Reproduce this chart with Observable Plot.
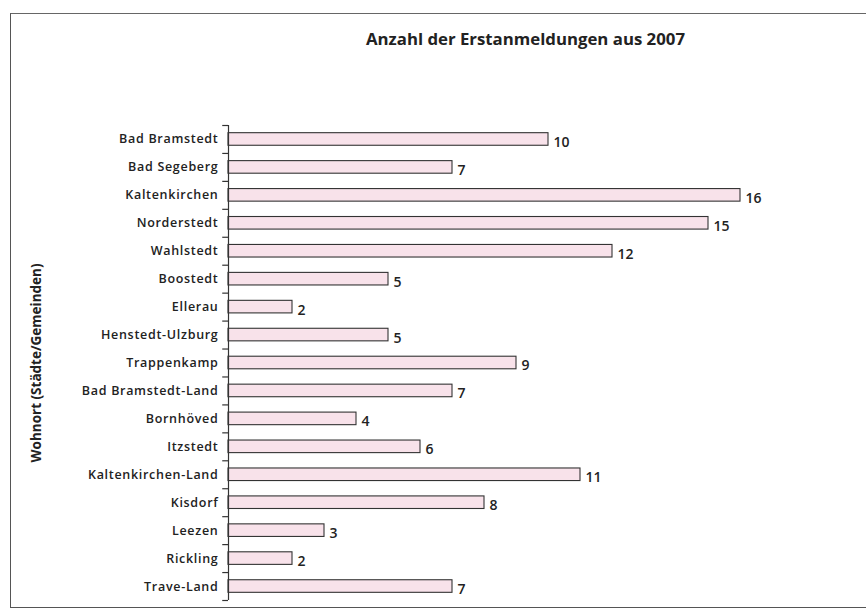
<!DOCTYPE html>
<html>
<head>
<meta charset="utf-8">
<script src="https://cdn.jsdelivr.net/npm/d3@7"></script>
<script src="https://cdn.jsdelivr.net/npm/@observablehq/plot@0.6"></script>
<style>
  html, body { margin: 0; padding: 0; background: #fff; overflow: hidden; }
  #wrap { position: relative; width: 866px; height: 610px; }
  #border { position: absolute; left: 10px; top: 13px; width: 900px; height: 593px;
            border-left: 1.6px solid #555; border-top: 1.6px solid #666; border-bottom: 1.6px solid #555; }
  #chart { position: absolute; left: 0; top: 0; }
</style>
</head>
<body>
<div id="wrap"><div id="border"></div><div id="chart"></div></div>
<script>
const title = "Anzahl der Erstanmeldungen aus 2007";
const yLabel = "Wohnort (Städte/Gemeinden)";
const places = ["Bad Bramstedt", "Bad Segeberg", "Kaltenkirchen", "Norderstedt", "Wahlstedt",
  "Boostedt", "Ellerau", "Henstedt-Ulzburg", "Trappenkamp", "Bad Bramstedt-Land", "Bornhöved",
  "Itzstedt", "Kaltenkirchen-Land", "Kisdorf", "Leezen", "Rickling", "Trave-Land"];
const counts = [10, 7, 16, 15, 12, 5, 2, 5, 9, 7, 4, 6, 11, 8, 3, 2, 7];

const data = places.map((p, i) => ({place: p, count: counts[i]}));
const font = "'Open Sans', 'DejaVu Sans', sans-serif";
const step = (600 - 125) / places.length;
const tickRows = places.map(p => ({place: p}));
const lastRow = [{place: places[places.length - 1]}];

const chart = Plot.plot({
  width: 866,
  height: 610,
  marginLeft: 228,
  marginRight: 126,
  marginTop: 125,
  marginBottom: 10,
  style: {fontFamily: font, background: "transparent", overflow: "visible"},
  x: {domain: [0, 16], axis: null},
  y: {domain: places, paddingInner: 0.55, paddingOuter: 0.275, round: false, axis: null},
  marks: [
    Plot.barX(data, {x: "count", y: "place", fill: "#f8e2ea", stroke: "#333", strokeWidth: 1.1}),
    Plot.ruleX([0], {stroke: "#333", strokeWidth: 1.2}),
    Plot.ruleY(tickRows, {y: "place", x1: () => -0.18, x2: () => 0, dy: -step / 2, stroke: "#333", strokeWidth: 1.2}),
    Plot.ruleY(lastRow, {y: "place", x1: () => -0.18, x2: () => 0, dy: step / 2, stroke: "#333", strokeWidth: 1.2}),
    Plot.text(data, {x: 0, y: "place", text: "place", textAnchor: "end", dx: -10, dy: 0,
      fontSize: 12.5, fontWeight: 600, fill: "#222"}),
    Plot.text(data, {x: "count", y: "place", text: d => String(d.count), textAnchor: "start", dx: 5, dy: 3,
      fontSize: 14, fontWeight: 600, fill: "#222"}),
    Plot.text([title], {frameAnchor: "top", textAnchor: "middle", text: d => d, dx: 41, dy: -92,
      fontSize: 16.8, fontWeight: 700, fill: "#222"}),
    Plot.text([yLabel], {frameAnchor: "left", textAnchor: "middle", text: d => d, rotate: -90, dx: -192, dy: 0,
      fontSize: 13.5, fontWeight: 700, fill: "#222"})
  ]
});
d3.select(chart).selectAll("text")
  .filter(function () { return places.includes(this.textContent); })
  .style("letter-spacing", "0.7px");
document.getElementById("chart").appendChild(chart);
</script>
</body>
</html>
